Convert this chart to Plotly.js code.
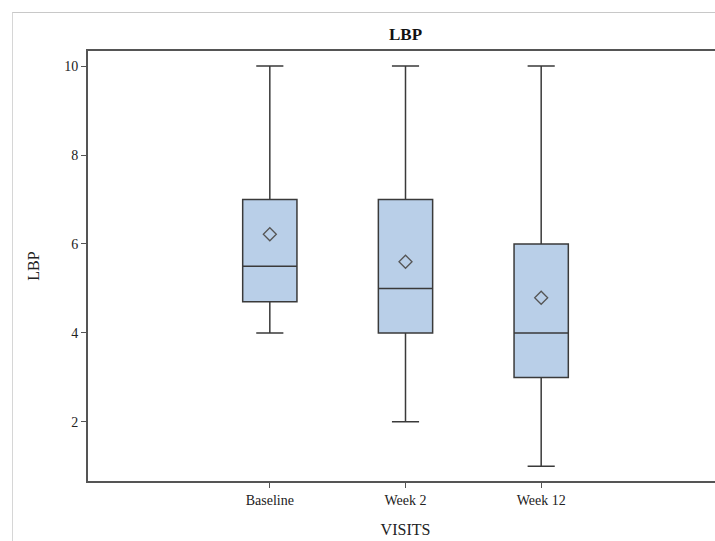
<!DOCTYPE html>
<html>
<head>
<meta charset="utf-8">
<script src="https://cdn.plot.ly/plotly-3.0.1.min.js"></script>
<style>
html,body{margin:0;padding:0;overflow:hidden;background:#fff;width:715px;height:541px;}
#frame{position:absolute;left:12px;top:12px;width:800px;height:600px;border-left:1px solid #d6d6d6;border-top:1px solid #c8c8c8;pointer-events:none;}
#chart{position:absolute;left:0;top:0;}
</style>
</head>
<body>
<div id="chart"></div>
<div id="frame"></div>
<script>
const visits = ["Baseline", "Week 2", "Week 12"];
const minVals = [4, 2, 1];
const q1Vals = [4.7, 4, 3];
const medianVals = [5.5, 5, 4];
const q3Vals = [7, 7, 6];
const maxVals = [10, 10, 10];
const meanVals = [6.22, 5.6, 4.79];

const font = "'Liberation Serif', 'DejaVu Serif', serif";

const boxTrace = {
  type: "box",
  x: visits,
  q1: q1Vals,
  median: medianVals,
  q3: q3Vals,
  lowerfence: minVals,
  upperfence: maxVals,
  fillcolor: "#b9cfe8",
  line: {color: "#3a3a3a", width: 1.5},
  width: 0.4,
  whiskerwidth: 0.5,
  boxpoints: false,
  showlegend: false,
  hoverinfo: "skip"
};

const meanTrace = {
  type: "scatter",
  mode: "markers",
  x: visits,
  y: meanVals,
  marker: {symbol: "diamond-open", size: 10, color: "#555555", line: {width: 1.3, color: "#555555"}},
  showlegend: false,
  hoverinfo: "skip"
};

const layout = {
  width: 723,
  height: 541,
  margin: {l: 88, r: 0, t: 51, b: 60},
  paper_bgcolor: "#ffffff",
  plot_bgcolor: "#ffffff",
  font: {family: font, size: 14, color: "#222"},
  title: {text: "<b>LBP</b>", font: {family: font, size: 17, color: "#111"}, x: 0.5, xref: "paper", xanchor: "center", yref: "container", y: 1 - 34/541, yanchor: "middle"},
  xaxis: {
    type: "category",
    range: [-1.34, 3.34],
    showline: true, mirror: true, linecolor: "#555", linewidth: 2,
    ticks: "outside", ticklen: 5, tickcolor: "#555", tickwidth: 1,
    showgrid: false, zeroline: false,
    tickfont: {family: font, size: 14, color: "#222"},
    title: {text: "VISITS", font: {family: font, size: 16, color: "#222"}, standoff: 17}
  },
  yaxis: {
    range: [0.67, 10.34],
    tickvals: [2, 4, 6, 8, 10],
    showline: true, mirror: true, linecolor: "#555", linewidth: 2,
    ticks: "outside", ticklen: 5, tickcolor: "#555", tickwidth: 1,
    showgrid: false, zeroline: false,
    tickfont: {family: font, size: 14, color: "#222"},
    title: {text: "LBP", font: {family: font, size: 16, color: "#222"}, standoff: 21}
  }
};

Plotly.newPlot("chart", [boxTrace, meanTrace], layout, {staticPlot: true, displayModeBar: false});
</script>
</body>
</html>
